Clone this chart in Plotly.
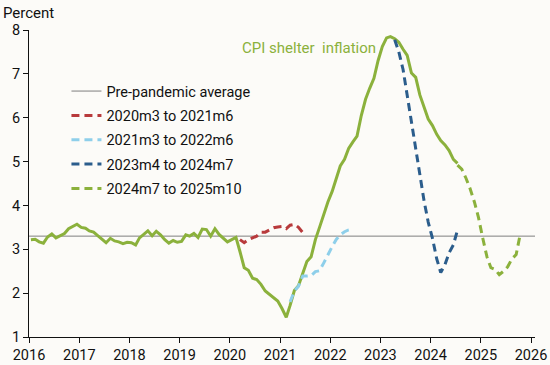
import pandas as pd
import plotly.graph_objects as go

# ---- data (monthly, percent) ----
shelter_start = "2016-01"
shelter = [
    3.22, 3.23, 3.17, 3.14, 3.28, 3.35, 3.26, 3.31, 3.36, 3.47, 3.53, 3.57,
    3.50, 3.48, 3.42, 3.39, 3.31, 3.22, 3.15, 3.25, 3.19, 3.17, 3.13, 3.16,
    3.15, 3.10, 3.26, 3.34, 3.42, 3.31, 3.41, 3.33, 3.22, 3.14, 3.20, 3.16,
    3.18, 3.33, 3.30, 3.36, 3.27, 3.46, 3.45, 3.30, 3.47, 3.34, 3.26, 3.17,
    3.22, 3.27, 2.95, 2.58, 2.52, 2.34, 2.31, 2.20, 2.05, 1.98, 1.90, 1.82,
    1.65, 1.45, 1.72, 2.06, 2.17, 2.43, 2.72, 2.83, 3.22, 3.50, 3.80, 4.08,
    4.32, 4.62, 4.90, 5.05, 5.30, 5.45, 5.58, 6.05, 6.42, 6.67, 6.90, 7.30,
    7.62, 7.82, 7.85, 7.80, 7.72, 7.56, 7.42, 7.02, 6.92, 6.52, 6.22, 5.97,
    5.82, 5.62, 5.48, 5.38, 5.25, 5.05, 4.96,
]

p1_start = "2020-03"  # 2020m3 to 2021m6
p1 = [3.22, 3.15, 3.22, 3.27, 3.30, 3.39, 3.39, 3.44, 3.49, 3.51,
      3.52, 3.47, 3.55, 3.57, 3.50, 3.38]

p2_start = "2021-03"  # 2021m3 to 2022m6
p2 = [1.80, 2.05, 2.16, 2.39, 2.39, 2.40, 2.49, 2.51, 2.69, 2.88,
      3.06, 3.23, 3.33, 3.40, 3.44, 3.46]

p3_start = "2023-04"  # 2023m4 to 2024m7
p3 = [7.78, 7.50, 7.10, 6.50, 5.90, 5.28, 4.73, 4.10, 3.62, 3.25,
      2.78, 2.47, 2.65, 2.92, 3.10, 3.44]

p4_start = "2024-07"  # 2024m7 to 2025m10
p4 = [4.92, 4.83, 4.62, 4.38, 4.08, 3.72, 3.25, 2.82, 2.58, 2.54,
      2.42, 2.50, 2.60, 2.78, 2.88, 3.35]

pre_pandemic_avg = 3.3
avg_span = ["2016-01-01", "2026-01-30"]

names = ["2020m3 to 2021m6", "2021m3 to 2022m6", "2023m4 to 2024m7", "2024m7 to 2025m10"]
x_ticks = [str(y) for y in range(2016, 2027)]
y_ticks = list(range(1, 9))


def months(start, n):
    return pd.date_range(start, periods=n, freq="MS") + pd.Timedelta(days=14)


GREEN = "#8bb13c"
RED = "#b83a3c"
LBLUE = "#8ecfea"
DBLUE = "#2b5d8c"
FONT = "Roboto"
INK = "#111111"

fig = go.Figure()

fig.add_trace(go.Scatter(
    x=avg_span, y=[pre_pandemic_avg, pre_pandemic_avg], mode="lines",
    line=dict(color="#7f7f7f", width=1), name="Pre-pandemic average",
    legendgroup="a"))

fig.add_trace(go.Scatter(
    x=months(shelter_start, len(shelter)), y=shelter, mode="lines",
    line=dict(color=GREEN, width=3), showlegend=False))

for vals, start, col, nm, g in [(p1, p1_start, RED, names[0], "b"),
                                 (p2, p2_start, LBLUE, names[1], "c"),
                                 (p3, p3_start, DBLUE, names[2], "d"),
                                 (p4, p4_start, GREEN, names[3], "e")]:
    fig.add_trace(go.Scatter(
        x=months(start, len(vals)), y=vals, mode="lines",
        line=dict(color=col, width=3, dash="8px,5px"), name=nm,
        legendgroup=g))

fig.add_annotation(x="2020-03-15", y=7.6, xref="x", yref="y",
                   text="CPI shelter  inflation", showarrow=False,
                   xanchor="left", yanchor="middle",
                   font=dict(family=FONT, size=15, color=GREEN))

fig.add_annotation(x=-28 / 506, y=1.0, xref="paper", yref="paper",
                   text="Percent", showarrow=False, xanchor="left",
                   yanchor="bottom", yshift=6,
                   font=dict(family=FONT, size=15, color=INK))

fig.update_layout(
    width=550, height=365,
    margin=dict(l=29, r=15, t=30, b=28, autoexpand=False),
    paper_bgcolor="#fcfbf8", plot_bgcolor="#fcfbf8",
    font=dict(family=FONT, size=14.5, color=INK),
    showlegend=True,
    legend=dict(x=0.074, y=0.853, xanchor="left", yanchor="top",
                bgcolor="rgba(0,0,0,0)", traceorder="grouped",
                tracegroupgap=2.5, font=dict(family=FONT, size=14.5, color=INK)),
    xaxis=dict(range=["2016-01-01", "2026-01-30"], type="date",
               tickvals=[f"{y}-01-01" for y in x_ticks], ticktext=x_ticks,
               showline=True, linecolor=INK, linewidth=1,
               ticks="outside", ticklen=5, tickcolor=INK,
               showgrid=False, zeroline=False, automargin=False,
               tickfont=dict(family=FONT, size=14.5, color=INK)),
    yaxis=dict(range=[1, 8], tickvals=y_ticks,
               showline=True, linecolor=INK, linewidth=1,
               ticks="outside", ticklen=5, tickcolor=INK,
               showgrid=False, zeroline=False, automargin=False,
               tickfont=dict(family=FONT, size=14.5, color=INK)),
)

# remove the browser's default 8px page margin so the 550x365 figure fills the window
fig.write_html("out.html", config={"displayModeBar": False},
               post_script="document.body.style.margin='0px';document.body.style.background='#fcfbf8';")
